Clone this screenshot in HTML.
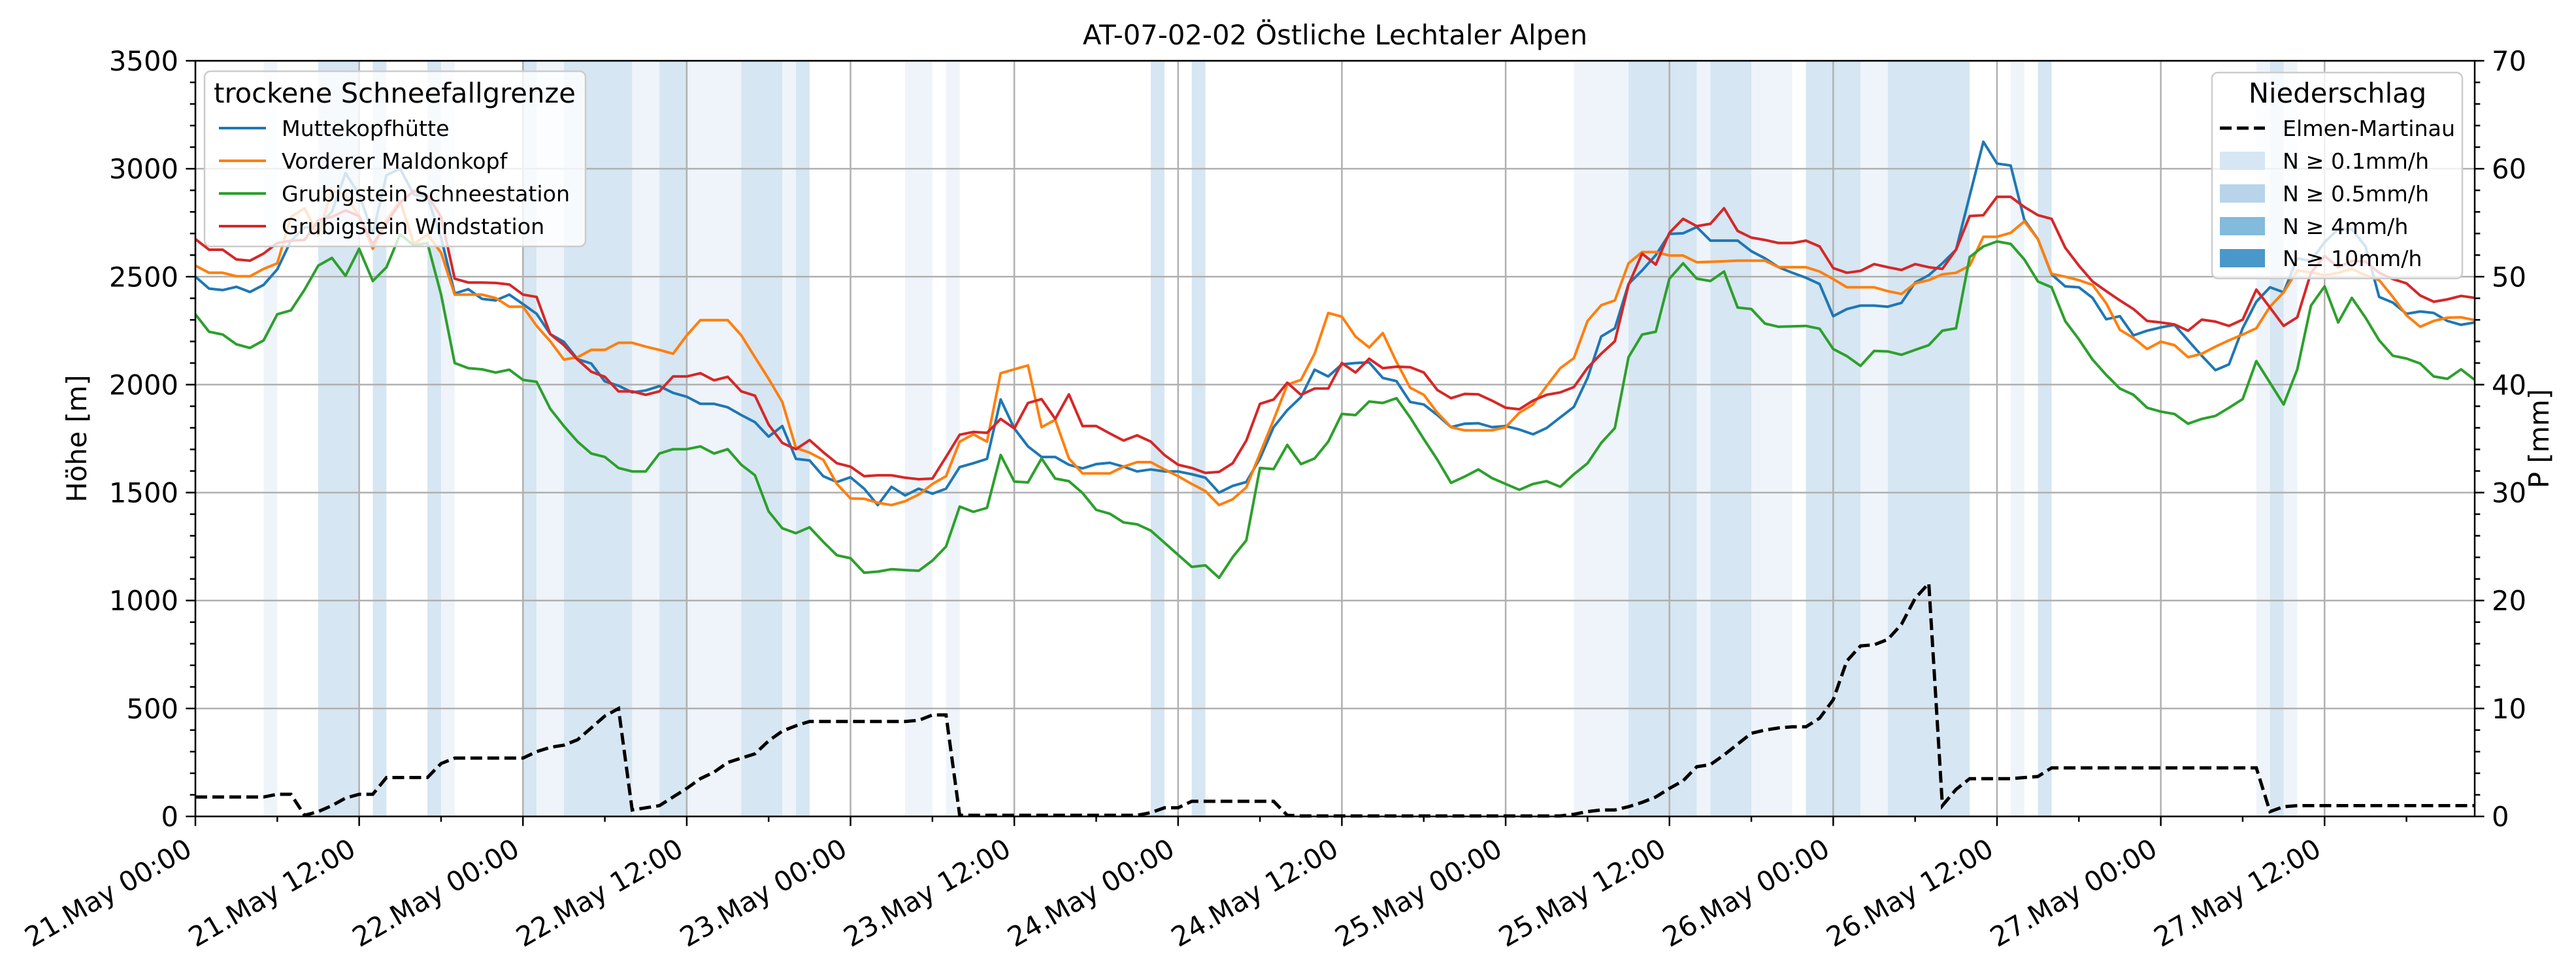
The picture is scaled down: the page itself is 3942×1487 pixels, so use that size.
<!DOCTYPE html>
<html><head><meta charset="utf-8"><style>
html,body{margin:0;padding:0;background:#fff;}
svg{display:block;font-family:"DejaVu Sans","Liberation Sans",sans-serif;}
</style></head><body>
<svg id="chart" width="3942" height="1487" viewBox="0 0 3942 1487" xmlns="http://www.w3.org/2000/svg">
<rect x="0" y="0" width="3942" height="1487" fill="#fff"/>
<g id="bands"></g>
<g id="grid"></g>
<g id="series"></g>
<g id="axes"></g>
<text x="2043" y="68" font-size="41.7" text-anchor="middle">AT-07-02-02 Östliche Lechtaler Alpen</text>
<text transform="translate(132,671) rotate(-90)" font-size="41.7" text-anchor="middle">Höhe [m]</text>
<text transform="translate(3900,671) rotate(-90)" font-size="41.7" text-anchor="middle">P [mm]</text>
<g>
<rect x="313" y="109" width="583" height="268" rx="9" fill="#fff" fill-opacity="0.8" stroke="#cccccc" stroke-width="2.5"/>
<text x="604" y="157" font-size="41.7" text-anchor="middle">trockene Schneefallgrenze</text>
<g><line x1="335" y1="196" x2="407" y2="196" stroke="#1f77b4" stroke-width="4"/><text x="431" y="208" font-size="33.3">Muttekopfhütte</text></g>
<g><line x1="335" y1="246" x2="407" y2="246" stroke="#ff7f0e" stroke-width="4"/><text x="431" y="258" font-size="33.3">Vorderer Maldonkopf</text></g>
<g><line x1="335" y1="296" x2="407" y2="296" stroke="#2ca02c" stroke-width="4"/><text x="431" y="308" font-size="33.3">Grubigstein Schneestation</text></g>
<g><line x1="335" y1="346" x2="407" y2="346" stroke="#d62728" stroke-width="4"/><text x="431" y="358" font-size="33.3">Grubigstein Windstation</text></g>
</g>
<g>
<rect x="3385" y="111" width="383" height="315" rx="9" fill="#fff" fill-opacity="0.8" stroke="#cccccc" stroke-width="2.5"/>
<text x="3577" y="157" font-size="41.7" text-anchor="middle">Niederschlag</text>
<g><line x1="3397" y1="196" x2="3466" y2="196" stroke="#000" stroke-width="5" stroke-dasharray="18,8"/><text x="3493" y="208" font-size="33.3">Elmen-Martinau</text></g>
<g><rect x="3397" y="232" width="69" height="28" fill="#d6e6f4"/><text x="3493" y="258" font-size="33.3">N ≥ 0.1mm/h</text></g>
<g><rect x="3397" y="282" width="69" height="28" fill="#b7d4ea"/><text x="3493" y="308" font-size="33.3">N ≥ 0.5mm/h</text></g>
<g><rect x="3397" y="332" width="69" height="28" fill="#82bbdb"/><text x="3493" y="358" font-size="33.3">N ≥ 4mm/h</text></g>
<g><rect x="3397" y="381" width="69" height="28" fill="#4a98c9"/><text x="3493" y="407" font-size="33.3">N ≥ 10mm/h</text></g>
</g>
</svg>
<script>
const muttekopf=[2500,2445,2438,2453,2429,2462,2534,2667,2727,2737,2800,2980,2880,2700,2970,3000,2880,2870,2680,2422,2442,2397,2390,2417,2373,2328,2234,2198,2118,2098,2015,1995,1964,1973,1993,1962,1944,1911,1911,1895,1859,1826,1759,1808,1656,1649,1576,1549,1571,1518,1442,1527,1487,1518,1495,1518,1618,1636,1656,1931,1797,1714,1665,1665,1629,1612,1632,1638,1620,1598,1607,1598,1598,1585,1569,1500,1531,1549,1658,1803,1882,1942,2069,2038,2094,2100,2103,2031,2016,1920,1908,1859,1803,1819,1821,1803,1808,1792,1770,1799,1848,1897,2031,2223,2261,2466,2529,2600,2698,2701,2730,2667,2667,2667,2618,2585,2544,2518,2495,2466,2317,2350,2366,2366,2361,2379,2473,2507,2562,2625,2875,3125,3024,3015,2763,2674,2511,2455,2451,2402,2303,2317,2228,2250,2265,2277,2205,2134,2067,2094,2261,2384,2451,2428,2585,2573,2660,2720,2720,2640,2406,2380,2328,2339,2332,2295,2277,2288];
const maldonkopf=[2551,2518,2518,2502,2502,2536,2562,2777,2817,2692,2900,2877,2780,2629,2763,2852,2651,2696,2611,2417,2417,2417,2401,2361,2361,2272,2201,2116,2127,2161,2161,2194,2194,2176,2161,2143,2228,2299,2299,2299,2228,2127,2027,1920,1707,1685,1652,1540,1473,1471,1453,1442,1460,1491,1540,1576,1736,1770,1736,2053,2071,2089,1803,1837,1658,1589,1589,1589,1620,1641,1641,1607,1576,1540,1507,1442,1469,1524,1681,1837,2000,2022,2143,2332,2315,2223,2172,2239,2105,1986,1953,1870,1803,1788,1788,1788,1803,1870,1908,1993,2076,2123,2295,2368,2390,2562,2614,2614,2598,2598,2567,2569,2571,2574,2574,2574,2544,2544,2544,2524,2489,2451,2451,2451,2433,2420,2469,2484,2511,2518,2551,2685,2685,2703,2756,2674,2513,2500,2484,2462,2377,2254,2216,2165,2199,2183,2127,2143,2176,2205,2232,2261,2361,2428,2529,2520,2507,2518,2536,2507,2484,2406,2321,2268,2295,2310,2312,2299];
const schneestation=[2326,2245,2232,2187,2170,2205,2326,2344,2440,2551,2587,2504,2629,2480,2544,2696,2645,2656,2417,2100,2076,2071,2056,2069,2022,2013,1888,1808,1736,1681,1665,1614,1598,1598,1681,1701,1701,1714,1681,1701,1629,1580,1413,1335,1312,1339,1272,1210,1196,1129,1134,1145,1141,1138,1185,1250,1435,1411,1429,1674,1551,1547,1658,1565,1553,1498,1420,1402,1362,1353,1324,1268,1212,1156,1163,1105,1201,1279,1614,1609,1721,1632,1658,1736,1864,1859,1922,1915,1937,1848,1748,1652,1545,1574,1607,1567,1540,1513,1540,1553,1527,1585,1636,1730,1799,2127,2232,2245,2491,2562,2491,2480,2524,2357,2350,2283,2268,2270,2272,2259,2165,2132,2087,2156,2154,2138,2161,2183,2250,2261,2591,2640,2663,2652,2580,2478,2451,2294,2210,2116,2045,1982,1953,1893,1875,1864,1819,1841,1855,1893,1933,2109,2009,1908,2071,2366,2455,2288,2402,2310,2205,2134,2121,2098,2038,2027,2071,2022];
const windstation=[2674,2625,2625,2580,2574,2607,2656,2667,2670,2762,2777,2807,2780,2650,2747,2842,2897,2877,2777,2491,2473,2473,2471,2464,2417,2406,2234,2183,2116,2060,2036,1969,1969,1953,1969,2038,2038,2053,2020,2036,1969,1949,1815,1730,1701,1743,1687,1636,1620,1576,1580,1580,1569,1562,1565,1665,1768,1781,1777,1841,1797,1915,1933,1841,1955,1808,1808,1774,1741,1765,1736,1674,1629,1614,1591,1596,1636,1741,1911,1931,2009,1953,1982,1982,2100,2056,2120,2076,2083,2081,2056,1975,1937,1957,1955,1926,1893,1886,1926,1953,1964,1989,2078,2143,2201,2462,2607,2556,2703,2768,2734,2745,2817,2712,2681,2670,2656,2656,2667,2640,2540,2518,2527,2558,2544,2531,2558,2544,2536,2625,2781,2785,2870,2870,2823,2785,2768,2634,2551,2478,2433,2390,2350,2295,2288,2279,2250,2301,2292,2272,2301,2440,2357,2272,2312,2518,2596,2544,2573,2570,2518,2489,2469,2413,2384,2395,2411,2402];
const precipSum=[1.8,1.8,1.8,1.8,1.8,1.8,2.05,2.05,0.1,0.45,1.0,1.7,2.05,2.05,3.6,3.6,3.6,3.6,4.9,5.4,5.4,5.4,5.4,5.4,5.4,6.0,6.4,6.6,7.1,8.2,9.3,10.0,0.6,0.8,1.0,1.8,2.6,3.5,4.1,5.0,5.4,5.8,7.0,7.9,8.4,8.8,8.8,8.8,8.8,8.8,8.8,8.8,8.8,8.9,9.4,9.4,0.1,0.1,0.1,0.1,0.1,0.1,0.1,0.1,0.1,0.1,0.1,0.1,0.1,0.1,0.35,0.8,0.8,1.4,1.4,1.4,1.4,1.4,1.4,1.4,0.1,0.05,0.05,0.05,0.05,0.05,0.05,0.05,0.05,0.05,0.05,0.05,0.05,0.05,0.05,0.05,0.05,0.05,0.05,0.05,0.05,0.2,0.45,0.6,0.6,0.9,1.3,1.8,2.6,3.3,4.6,4.8,5.7,6.7,7.7,8.0,8.2,8.3,8.3,9.1,10.8,14.4,15.8,15.9,16.4,17.8,20.2,21.6,1.0,2.5,3.5,3.5,3.5,3.5,3.6,3.7,4.5,4.5,4.5,4.5,4.5,4.5,4.5,4.5,4.5,4.5,4.5,4.5,4.5,4.5,4.5,4.5,0.45,0.9,1.0,1.0,1.0,1.0,1.0,1.0,1.0,1.0,1.0,1.0,1.0,1.0,1.0,1.0];
const bandStart=[5,9,13,17,18,24,25,27,32,34,36,39,40,43,44,52,55,70,73,101,105,110,111,114,118,122,124,133,135,151,152,153];
const bandEnd=[6,12,14,18,19,25,27,32,34,36,39,40,43,44,45,54,56,71,74,105,110,111,114,117,122,124,130,134,136,152,153,154];
const bandLevel=[1,2,2,2,1,2,1,2,1,2,1,1,2,1,2,1,1,2,2,1,2,1,2,1,2,1,2,1,2,1,2,1];
const xTickLabels=["21.May 00:00","21.May 12:00","22.May 00:00","22.May 12:00","23.May 00:00","23.May 12:00","24.May 00:00","24.May 12:00","25.May 00:00","25.May 12:00","26.May 00:00","26.May 12:00","27.May 00:00","27.May 12:00"];
const yTicksLeft=[0,500,1000,1500,2000,2500,3000,3500];
const yTicksRight=[0,10,20,30,40,50,60,70];

const NS="http://www.w3.org/2000/svg";
const L=299,R=3787,T=93,B=1249,HMAX=167;
function X(h){return L+h*(R-L)/HMAX;}
function Y(m){return B-m*(B-T)/3500;}
function YP(p){return B-p*(B-T)/70;}
function mk(tag,attrs,parent){const e=document.createElementNS(NS,tag);for(const k in attrs)e.setAttribute(k,attrs[k]);parent.appendChild(e);return e;}
const gB=document.getElementById('bands'),gG=document.getElementById('grid'),gS=document.getElementById('series'),gA=document.getElementById('axes');
const bandColors={1:"#eef4fa",2:"#d6e6f2"};
for(let i=0;i<bandStart.length;i++){
  const r=mk('rect',{x:X(bandStart[i]),y:T,width:X(bandEnd[i])-X(bandStart[i]),height:B-T,fill:bandColors[bandLevel[i]]},gB);
  
  
}
for(let i=0;i<xTickLabels.length;i++){
  const x=X(i*12);
  const g=mk('line',{x1:x,y1:T,x2:x,y2:B,stroke:"#b0b0b0","stroke-width":2.5},gG);
  
  
}
for(const v of yTicksLeft){
  const g=mk('line',{x1:L,y1:Y(v),x2:R,y2:Y(v),stroke:"#b0b0b0","stroke-width":2.5},gG);
  
  
}
const seriesList=[[muttekopf,"#1f77b4","line-muttekopf"],[maldonkopf,"#ff7f0e","line-maldonkopf"],[schneestation,"#2ca02c","line-schneestation"],[windstation,"#d62728","line-windstation"]];
for(const s of seriesList){
  const pts=s[0].map((v,i)=>X(i).toFixed(1)+","+Y(v).toFixed(1)).join(" ");
  const p=mk('polyline',{points:pts,fill:"none",stroke:s[1],"stroke-width":4,"stroke-linejoin":"round"},gS);
  
  
}
{
  const pts=precipSum.map((v,i)=>X(i).toFixed(1)+","+YP(v).toFixed(1)).join(" ");
  const p=mk('polyline',{points:pts,fill:"none",stroke:"#000","stroke-width":5,"stroke-dasharray":"18,8"},gS);
  
  
}
// spines
const sp=mk('rect',{x:L,y:T,width:R-L,height:B-T,fill:"none",stroke:"#000","stroke-width":2.5},gA);


// left ticks
for(let v=0;v<=3500;v+=100){
  const major=v%500===0;
  mk('line',{x1:L,y1:Y(v),x2:L-(major?14.6:8.3),y2:Y(v),stroke:"#000","stroke-width":2.5},gA);
}
for(const v of yTicksLeft){
  const t=mk('text',{x:L-26,y:Y(v)+15,"font-size":41.7,"text-anchor":"end"},gA);
  t.textContent=v;
  
  
}
for(let v=0;v<=70;v+=2){
  const major=v%10===0;
  mk('line',{x1:R,y1:YP(v),x2:R+(major?14.6:8.3),y2:YP(v),stroke:"#000","stroke-width":2.5},gA);
}
for(const v of yTicksRight){
  const t=mk('text',{x:R+26,y:YP(v)+15,"font-size":41.7,"text-anchor":"start"},gA);
  t.textContent=v;
  
  
}
for(let h=0;h<=HMAX;h+=6){
  const major=h%12===0;
  mk('line',{x1:X(h),y1:B,x2:X(h),y2:B+(major?14.6:8.3),stroke:"#000","stroke-width":2.5},gA);
}
for(let i=0;i<xTickLabels.length;i++){
  const x=X(i*12);
  const t=mk('text',{transform:"translate("+(x-18)+",1280) rotate(-30)","font-size":41.7,"text-anchor":"end",y:31},gA);
  t.textContent=xTickLabels[i];
  
  
}
</script>
</body></html>
